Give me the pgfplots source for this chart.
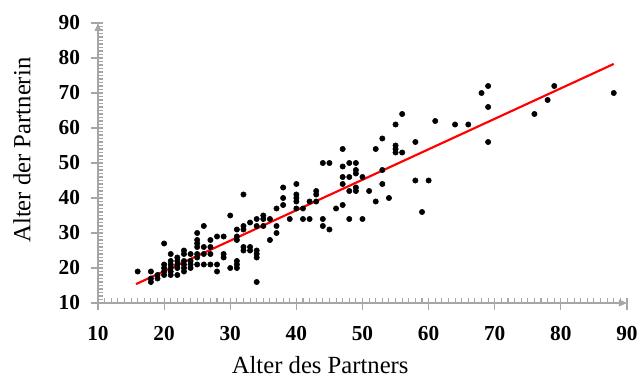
\documentclass[border=0pt]{standalone}
\usepackage{fontspec}
\setmainfont{Liberation Serif}
\usepackage{pgfplots}
\usepackage{pgfplotstable}
\pgfplotsset{compat=1.18}
\usetikzlibrary{arrows.meta}
\pgfplotstableread{
x y
16 19
18 19
18 17
18 16
19 17
19 18
20 27
20 21
20 20
20 19
20 18
21 24
21 22
21 21
21 20
21 19
21 18
22 23
22 22
22 21
22 20
22 18
23 25
23 24
23 22
23 21
23 20
23 19
24 24
24 22
24 21
24 20
25 30
25 28
25 27
25 26
25 24
25 23
25 21
26 32
26 26
26 24
26 21
27 28
27 26
27 24
27 21
28 29
28 21
28 19
29 29
29 24
29 23
30 35
30 20
31 31
31 29
31 28
31 22
31 21
31 20
32 41
32 32
32 31
32 26
32 25
33 33
33 26
33 25
34 34
34 32
34 25
34 24
34 23
34 16
35 35
35 34
35 32
36 34
36 28
37 37
37 32
37 30
38 43
38 40
38 38
39 34
40 44
40 41
40 40
40 39
40 37
41 37
41 34
42 39
42 34
43 42
43 41
43 39
44 50
44 34
44 32
45 50
45 31
46 37
47 54
47 49
47 46
47 44
47 38
48 50
48 46
48 42
48 34
49 50
49 48
49 47
49 43
49 42
50 46
50 34
51 42
52 54
52 39
53 57
53 48
53 44
54 40
55 61
55 55
55 54
55 53
56 64
56 53
58 56
58 45
59 36
60 45
61 62
64 61
66 61
68 70
69 72
69 66
69 56
76 64
78 68
79 72
88 70
}\pts
\begin{document}
\begin{tikzpicture}[x=1pt,y=1pt]
\path[use as bounding box] (-73.5,-56.25) rectangle (405.75,227.25);
\begin{axis}[
  at={(0,0)}, anchor=south west,
  scale only axis, width=396.75pt, height=210pt,
  xmin=10, xmax=90, ymin=10, ymax=90,
  axis lines=left,
  axis line style={draw=gray!70, line width=1pt, -{Triangle[length=6pt,width=5pt]}},
  xtick={10,20,...,90}, ytick={10,20,...,90},
  minor tick num=9,
  tick align=inside,
  tick style={draw=gray!70, line width=0.8pt},
  major tick length=9pt, minor tick length=3.75pt,
  major x tick style={yshift=-5.25pt},
  major y tick style={xshift=-5.25pt},
  /pgf/number format/assume math mode=true,
  ticklabel style={font=\fontsize{16}{16}\selectfont\bfseries},
  xticklabel shift=14pt, yticklabel shift=10pt,
  xlabel={Alter des Partners},
  ylabel={Alter der Partnerin},
  xlabel style={at={(axis description cs:0.42,-0.222)}, anchor=center, font=\fontsize{18.5}{18.5}\selectfont},
  ylabel style={at={(axis description cs:-0.144,0.546)}, anchor=center, font=\fontsize{18.5}{18.5}\selectfont},
  clip=false,
]
\addplot[only marks, mark=*, mark size=2pt, black] table[x=x,y=y] {\pts};
\addplot[red, line width=1.6pt] coordinates {(15.75,15.4) (88,78.3)};
\end{axis}
\end{tikzpicture}
\end{document}
